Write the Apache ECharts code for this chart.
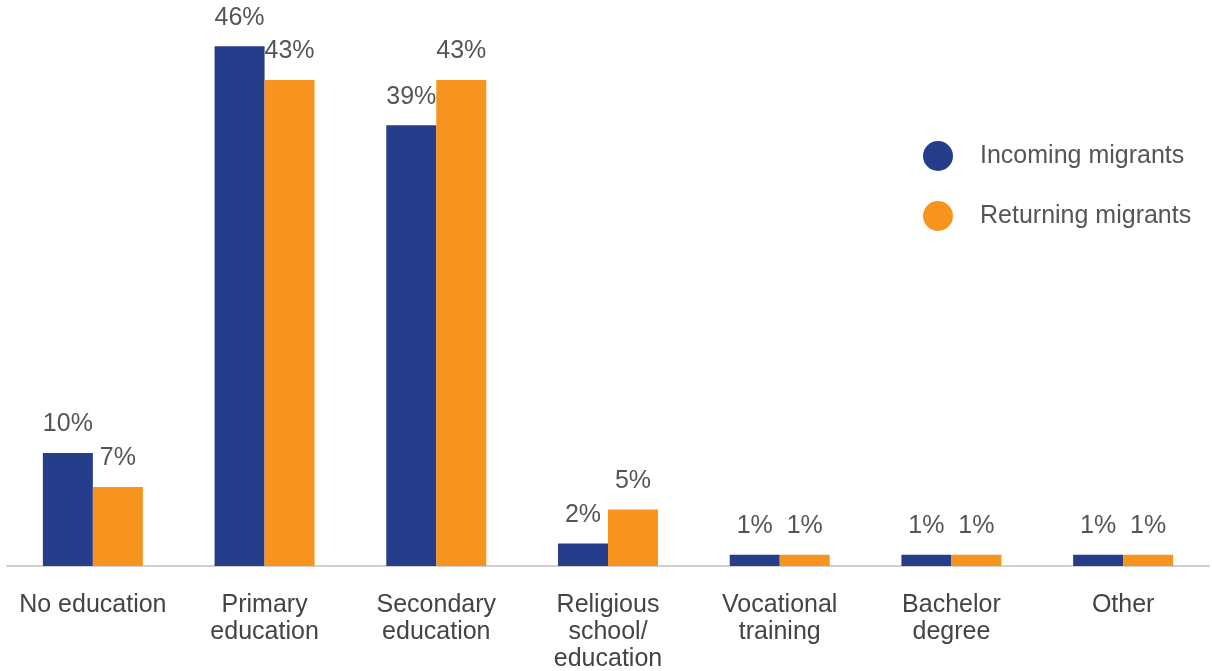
<!DOCTYPE html>
<html>
<head>
<meta charset="utf-8">
<script src="https://cdn.jsdelivr.net/npm/echarts@6/dist/echarts.min.js"></script>
<style>
  html, body { margin: 0; padding: 0; background: #fff; }
  #chart { width: 1212px; height: 671px; }
</style>
</head>
<body>
<div id="chart"></div>
<script>
// categories and values
const categories = [
  'No education',
  'Primary\neducation',
  'Secondary\neducation',
  'Religious\nschool/\neducation',
  'Vocational\ntraining',
  'Bachelor\ndegree',
  'Other'
]
const incoming = [10, 46, 39, 2, 1, 1, 1]
const returning = [7, 43, 43, 5, 1, 1, 1]
const seriesNames = ['Incoming migrants', 'Returning migrants']

const font = 'Liberation Sans'
const chart = echarts.init(document.getElementById('chart'))

const labelStyle = {
  show: true,
  position: 'top',
  distance: 16,
  formatter: '{c}%',
  color: '#555',
  fontSize: 25,
  fontFamily: font,
}

chart.setOption({
  animation: false,
  grid: { left: 7, right: 3, top: 1, bottom: 105, containLabel: false, outerBoundsMode: 'none' },
  legend: {
    orient: 'vertical',
    left: 918,
    top: 136,
    itemGap: 30,
    icon: 'circle',
    itemWidth: 30,
    itemHeight: 30,
    textStyle: { color: '#555', fontSize: 25, fontFamily: font, padding: [0, 0, 0, 22] },
    data: seriesNames,
  },
  xAxis: {
    type: 'category',
    data: categories,
    axisLine: { lineStyle: { color: '#d0d0d0', width: 2 } },
    axisTick: { show: false },
    axisLabel: {
      color: '#444',
      fontSize: 25,
      fontFamily: font,
      lineHeight: 27,
      margin: 26,
      interval: 0,
    },
  },
  yAxis: {
    type: 'value',
    min: 0,
    max: 50,
    show: false,
    splitLine: { show: false },
  },
  series: [
    {
      name: seriesNames[0],
      type: 'bar',
      data: incoming,
      barWidth: 50,
      barGap: '0%',
      itemStyle: { color: '#253d8b' },
      label: labelStyle,
    },
    {
      name: seriesNames[1],
      type: 'bar',
      data: returning,
      barWidth: 50,
      itemStyle: { color: '#f7941e' },
      label: labelStyle,
    },
  ],
})
</script>
</body>
</html>
